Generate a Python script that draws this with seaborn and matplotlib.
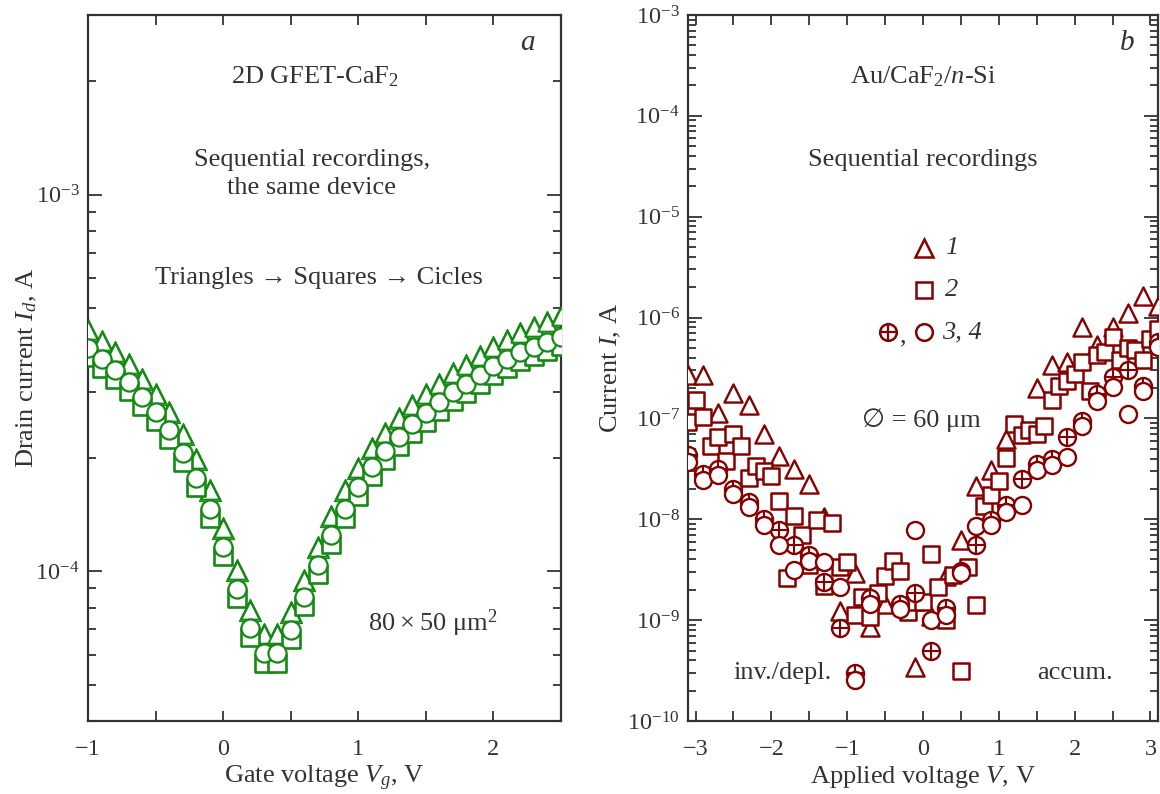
import matplotlib
matplotlib.use("Agg")
import matplotlib.pyplot as plt
import numpy as np
import pandas as pd
import seaborn as sns
from matplotlib.ticker import MultipleLocator, FixedLocator, NullFormatter

# ---------------- panel a: graphene FET transfer curves ----------------
gate_v = [-1.0, -0.9, -0.8, -0.7, -0.6, -0.5, -0.4, -0.3, -0.2, -0.1,
          0.0, 0.1, 0.2, 0.3, 0.4, 0.5, 0.6, 0.7, 0.8, 0.9,
          1.0, 1.1, 1.2, 1.3, 1.4, 1.5, 1.6, 1.7, 1.8, 1.9,
          2.0, 2.1, 2.2, 2.3, 2.4, 2.5]
id_triangles = [4.38e-4, 4.09e-4, 3.83e-4, 3.55e-4, 3.24e-4, 2.96e-4, 2.65e-4, 2.31e-4, 1.98e-4, 1.64e-4,
                1.30e-4, 1.01e-4, 7.9e-5, 6.8e-5, 6.8e-5, 7.8e-5, 9.5e-5, 1.16e-4, 1.40e-4, 1.64e-4,
                1.88e-4, 2.12e-4, 2.33e-4, 2.55e-4, 2.76e-4, 2.95e-4, 3.15e-4, 3.35e-4, 3.52e-4, 3.72e-4,
                3.93e-4, 4.12e-4, 4.30e-4, 4.45e-4, 4.60e-4, 4.75e-4]
id_squares = [3.71e-4, 3.46e-4, 3.24e-4, 3.01e-4, 2.74e-4, 2.51e-4, 2.24e-4, 1.95e-4, 1.67e-4, 1.38e-4,
              1.10e-4, 8.5e-5, 6.7e-5, 5.72e-5, 5.72e-5, 6.6e-5, 8.1e-5, 9.8e-5, 1.18e-4, 1.38e-4,
              1.58e-4, 1.79e-4, 1.97e-4, 2.15e-4, 2.33e-4, 2.49e-4, 2.66e-4, 2.83e-4, 2.97e-4, 3.14e-4,
              3.32e-4, 3.46e-4, 3.61e-4, 3.73e-4, 3.84e-4, 3.96e-4]
id_circles = [3.92e-4, 3.66e-4, 3.43e-4, 3.18e-4, 2.90e-4, 2.65e-4, 2.37e-4, 2.06e-4, 1.77e-4, 1.46e-4,
              1.16e-4, 8.95e-5, 7.05e-5, 6.05e-5, 6.05e-5, 6.97e-5, 8.53e-5, 1.04e-4, 1.25e-4, 1.46e-4,
              1.67e-4, 1.89e-4, 2.08e-4, 2.27e-4, 2.46e-4, 2.63e-4, 2.81e-4, 2.99e-4, 3.14e-4, 3.32e-4,
              3.51e-4, 3.66e-4, 3.82e-4, 3.94e-4, 4.06e-4, 4.19e-4]

# ---------------- panel b: Au/CaF2/n-Si MIS diode ----------------
v_rec1 = [-3.1, -2.9, -2.7, -2.5, -2.3, -2.1, -1.9, -1.7, -1.5, -1.3, -1.1, -0.9, -0.7, -0.5,
          -0.1, 0.1, 0.3, 0.5, 0.7, 0.9, 1.1, 1.5, 1.7, 1.9, 2.1, 2.3, 2.5, 2.7, 2.9, 3.1]
i_rec1 = [2.7e-7, 2.67e-7, 1.13e-7, 1.78e-7, 1.37e-7, 6.95e-8, 4.27e-8, 3.13e-8, 2.25e-8, 1.06e-8,
          1.22e-9, 2.95e-9, 8.5e-10, 1.45e-9,
          3.4e-10, 1.1e-9, 2.75e-9, 6.2e-9, 2.15e-8, 3.1e-8, 6.3e-8, 2.0e-7, 3.4e-7, 3.6e-7,
          8.1e-7, 5.4e-7, 8.0e-7, 1.1e-6, 1.65e-6, 1.3e-6]

v_rec2 = [-3.1, -3.0, -2.9, -2.8, -2.7, -2.6, -2.5, -2.4, -2.3, -2.2, -2.1, -2.0, -1.9, -1.8,
          -1.7, -1.6, -1.5, -1.4, -1.3, -1.2, -1.1, -1.0, -0.9, -0.8, -0.7, -0.6, -0.5, -0.4,
          -0.3, -0.2, -0.1, 0.0, 0.1, 0.2, 0.3, 0.4, 0.5, 0.6, 0.7, 0.8, 0.9, 1.0, 1.1, 1.2,
          1.3, 1.4, 1.5, 1.6, 1.7, 1.8, 1.9, 2.0, 2.1, 2.2, 2.3, 2.4, 2.5, 2.6, 2.7, 2.8,
          2.9, 3.0, 3.1]
i_rec2 = [9.2e-8, 1.51e-7, 1.03e-7, 5.3e-8, 6.5e-8, 3.8e-8, 7.0e-8, 5.3e-8, 2.55e-8, 3.35e-8,
          2.98e-8, 2.67e-8, 1.52e-8, 2.59e-9, 1.07e-8, 6.95e-9, 3.5e-9, 9.8e-9, 2.2e-9, 9.1e-9,
          3.4e-9, 3.8e-9, 1.12e-9, 1.7e-9, 1.08e-9, 1.84e-9, 2.73e-9, 3.84e-9, 3.08e-9, 1.21e-9,
          1.52e-9, 1.52e-9, 4.5e-9, 2.14e-9, 1.0e-9, 2.8e-9, 3.16e-10, 3.4e-9, 1.41e-9, 1.35e-8,
          1.73e-8, 2.4e-8, 4.05e-8, 8.9e-8, 6.8e-8, 7.6e-8, 7.05e-8, 8.5e-8, 1.53e-7, 2.12e-7,
          2.34e-7, 2.77e-7, 3.6e-7, 1.86e-7, 4.3e-7, 4.54e-7, 6.4e-7, 3.8e-7, 5.0e-7, 4.8e-7,
          3.8e-7, 6.15e-7, 7.7e-7]

v_rec34 = [-3.1, -2.9, -2.7, -2.5, -2.3, -2.1, -1.9, -1.7, -1.5, -1.3, -1.1, -0.9, -0.7,
           -0.3, -0.1, 0.1, 0.3, 0.5, 0.7, 0.9, 1.1, 1.3, 1.5, 1.7, 1.9, 2.1, 2.3, 2.5,
           2.7, 2.9, 3.1]
i_rec3 = [4.3e-8, 2.83e-8, 3.18e-8, 2.0e-8, 1.5e-8, 1.0e-8, 7.8e-9, 5.5e-9, 4.4e-9, 2.4e-9,
          8.3e-10, 2.96e-10, 1.64e-9, 1.46e-9, 1.86e-9, 5.0e-10, 1.31e-9, 3.08e-9, 5.5e-9,
          9.8e-9, 1.37e-8, 2.5e-8, 3.56e-8, 4.0e-8, 6.5e-8, 9.5e-8, 1.73e-7, 2.6e-7, 3.0e-7,
          2.12e-7, 5.7e-7]
i_rec4 = [3.7e-8, 2.47e-8, 2.73e-8, 1.78e-8, 1.32e-8, 8.8e-9, 5.5e-9, 3.13e-9, 3.9e-9, 3.8e-9,
          2.14e-9, 2.55e-10, 1.44e-9, 1.28e-9, 7.9e-9, 1.0e-9, 1.12e-9, 2.94e-9, 8.5e-9,
          8.7e-9, 1.18e-8, 1.38e-8, 3.1e-8, 3.43e-8, 4.1e-8, 8.5e-8, 1.49e-7, 2.07e-7, 1.1e-7,
          1.86e-7, 5.1e-7]

GREEN = "#148a14"
RED = "#860000"
INK = "#333333"
SYMBOL_FAMILY = ["Liberation Serif", "DejaVu Sans"]

sns.set_theme(style="ticks")
plt.rcParams.update({
    "font.family": ["Liberation Serif", "DejaVu Serif", "DejaVu Sans"],
    "mathtext.fontset": "custom",
    "mathtext.rm": "Liberation Serif",
    "mathtext.it": "Liberation Serif:italic",
    "mathtext.bf": "Liberation Serif:bold",
    "axes.edgecolor": INK,
    "axes.linewidth": 1.5,
    "text.color": INK,
    "axes.labelcolor": INK,
    "xtick.color": INK,
    "ytick.color": INK,
})

TXT = 19
TICK = 17.5

fig = plt.figure(figsize=(11.6, 7.94), dpi=100)
ax1 = fig.add_axes([88 / 1160, 1 - 721 / 794, 473 / 1160, 706 / 794])
ax2 = fig.add_axes([688 / 1160, 1 - 721 / 794, 470 / 1160, 706 / 794])

df_a = pd.DataFrame({"vg": gate_v, "tri": id_triangles, "sq": id_squares, "circ": id_circles})


def hollow(ax, x, y, marker, size, color, z, lw=1.6):
    sns.scatterplot(x=x, y=y, ax=ax, marker=marker, s=size, color="white",
                    edgecolor=color, linewidth=lw, zorder=z, legend=False)


# triangles carry a thin outer contour (two overlapping sweeps)
hollow(ax1, df_a["vg"], df_a["tri"], "^", 250, GREEN, 2.5, 1.0)
hollow(ax1, df_a["vg"], df_a["tri"], "^", 175, GREEN, 3, 1.5)
hollow(ax1, df_a["vg"], df_a["sq"], "s", 150, GREEN, 4, 1.9)
hollow(ax1, df_a["vg"], df_a["circ"], "o", 170, GREEN, 5, 1.6)

ax1.set_yscale("log")
ax1.set_xlim(-1.0, 2.5)
ax1.set_ylim(4.0e-5, 3.0e-3)
ax1.xaxis.set_major_locator(MultipleLocator(1))
ax1.xaxis.set_minor_locator(MultipleLocator(0.5))
ax1.yaxis.set_major_locator(FixedLocator([1e-4, 1e-3]))
ax1.yaxis.set_minor_locator(FixedLocator(
    [m * 10.0 ** e for e in (-5, -4, -3) for m in range(2, 10) if 4.0e-5 <= m * 10.0 ** e <= 3.0e-3]))
ax1.set_xlabel("Gate voltage $V_g$, V", fontsize=TXT, labelpad=3)
ax1.set_ylabel("Drain current $I_d$, A", fontsize=TXT)
ax1.yaxis.set_label_coords(-0.104, 0.5)

ax1.text(0.93, 0.96, "a", transform=ax1.transAxes, fontsize=TXT + 2, style="italic",
         ha="center", va="center")
ax1.text(0.48, 0.912, "2D GFET-CaF$_\\mathrm{2}$", transform=ax1.transAxes, fontsize=TXT,
         ha="center", va="center")
ax1.text(0.473, 0.795, "Sequential recordings,", transform=ax1.transAxes, fontsize=TXT,
         ha="center", va="center")
ax1.text(0.473, 0.755, "the same device", transform=ax1.transAxes, fontsize=TXT,
         ha="center", va="center")
ax1.text(0.488, 0.627, "Triangles \u2192 Squares \u2192 Cicles", transform=ax1.transAxes,
         fontsize=TXT, ha="center", va="center")
ax1.text(0.729, 0.139, "80\u2009\u00d7\u200950 \u03bcm$^\\mathrm{2}$", transform=ax1.transAxes,
         fontsize=TXT, ha="center", va="center")

# panel b
df_1 = pd.DataFrame({"v": v_rec1, "i": i_rec1})
df_2 = pd.DataFrame({"v": v_rec2, "i": i_rec2})
df_34 = pd.DataFrame({"v": v_rec34, "i3": i_rec3, "i4": i_rec4})

hollow(ax2, df_1["v"], df_1["i"], "^", 170, RED, 3, 1.7)
hollow(ax2, df_2["v"], df_2["i"], "s", 130, RED, 4, 1.8)
hollow(ax2, df_34["v"], df_34["i3"], "o", 150, RED, 5, 1.7)
sns.scatterplot(x=df_34["v"], y=df_34["i3"], ax=ax2, marker="+", s=150, color=RED,
                linewidth=1.5, zorder=5.5, legend=False)
hollow(ax2, df_34["v"], df_34["i4"], "o", 150, RED, 6, 1.7)

ax2.set_yscale("log")
ax2.set_xlim(-3.1, 3.1)
ax2.set_ylim(1e-10, 1e-3)
ax2.xaxis.set_major_locator(MultipleLocator(1))
ax2.xaxis.set_minor_locator(MultipleLocator(0.5))
ax2.yaxis.set_major_locator(FixedLocator([10.0 ** e for e in range(-10, -2)]))
ax2.yaxis.set_minor_locator(FixedLocator(
    [m * 10.0 ** e for e in range(-10, -3) for m in range(2, 10)]))
ax2.set_xlabel("Applied voltage $V$, V", fontsize=TXT, labelpad=3)
ax2.set_ylabel("Current $I$, A", fontsize=TXT)
ax2.yaxis.set_label_coords(-0.138, 0.5)

ax2.text(0.934, 0.96, "b", transform=ax2.transAxes, fontsize=TXT + 2, style="italic",
         ha="center", va="center")
ax2.text(0.5, 0.912, "Au/CaF$_\\mathrm{2}$/$n$-Si", transform=ax2.transAxes, fontsize=TXT,
         ha="center", va="center")
ax2.text(0.5, 0.795, "Sequential recordings", transform=ax2.transAxes, fontsize=TXT,
         ha="center", va="center")
ax2.text(0.497, 0.426, "\u2205 = 60 \u03bcm", transform=ax2.transAxes, fontsize=TXT,
         ha="center", va="center", family=SYMBOL_FAMILY)
ax2.text(0.202, 0.068, "inv./depl.", transform=ax2.transAxes, fontsize=TXT,
         ha="center", va="center")
ax2.text(0.824, 0.068, "accum.", transform=ax2.transAxes, fontsize=TXT,
         ha="center", va="center")

# legend keys drawn in axes coordinates
key_kw = dict(transform=ax2.transAxes, clip_on=False, zorder=7, linestyle="none")
ax2.plot([0.502], [0.670], marker="^", ms=13, mfc="white", mec=RED, mew=1.8, **key_kw)
ax2.plot([0.502], [0.610], marker="s", ms=11, mfc="white", mec=RED, mew=1.8, **key_kw)
ax2.plot([0.426], [0.551], marker="o", ms=12, mfc="white", mec=RED, mew=1.8, **key_kw)
ax2.plot([0.426], [0.551], marker="+", ms=12, mec=RED, mew=1.6, **key_kw)
ax2.plot([0.502], [0.551], marker="o", ms=12, mfc="white", mec=RED, mew=1.8, **key_kw)
ax2.text(0.547, 0.670, "1", transform=ax2.transAxes, fontsize=TXT, style="italic",
         ha="left", va="center")
ax2.text(0.547, 0.610, "2", transform=ax2.transAxes, fontsize=TXT, style="italic",
         ha="left", va="center")
ax2.text(0.452, 0.545, ",", transform=ax2.transAxes, fontsize=TXT, ha="left", va="center")
ax2.text(0.540, 0.551, "3, 4", transform=ax2.transAxes, fontsize=TXT, style="italic",
         ha="left", va="center")

for ax in (ax1, ax2):
    ax.yaxis.set_minor_formatter(NullFormatter())
    ax.tick_params(which="both", direction="in", top=True, right=True, labelsize=TICK,
                   width=1.3)
    ax.tick_params(axis="y", which="both", pad=6)
    ax.tick_params(axis="x", which="both", pad=13)
    ax.tick_params(axis="y", which="major", length=10)
    ax.tick_params(axis="y", which="minor", length=6)
    ax.tick_params(axis="x", which="both", length=7)
    for sp in ax.spines.values():
        sp.set_linewidth(1.6)
        sp.set_color(INK)

fig.savefig("out.png", dpi=100)
